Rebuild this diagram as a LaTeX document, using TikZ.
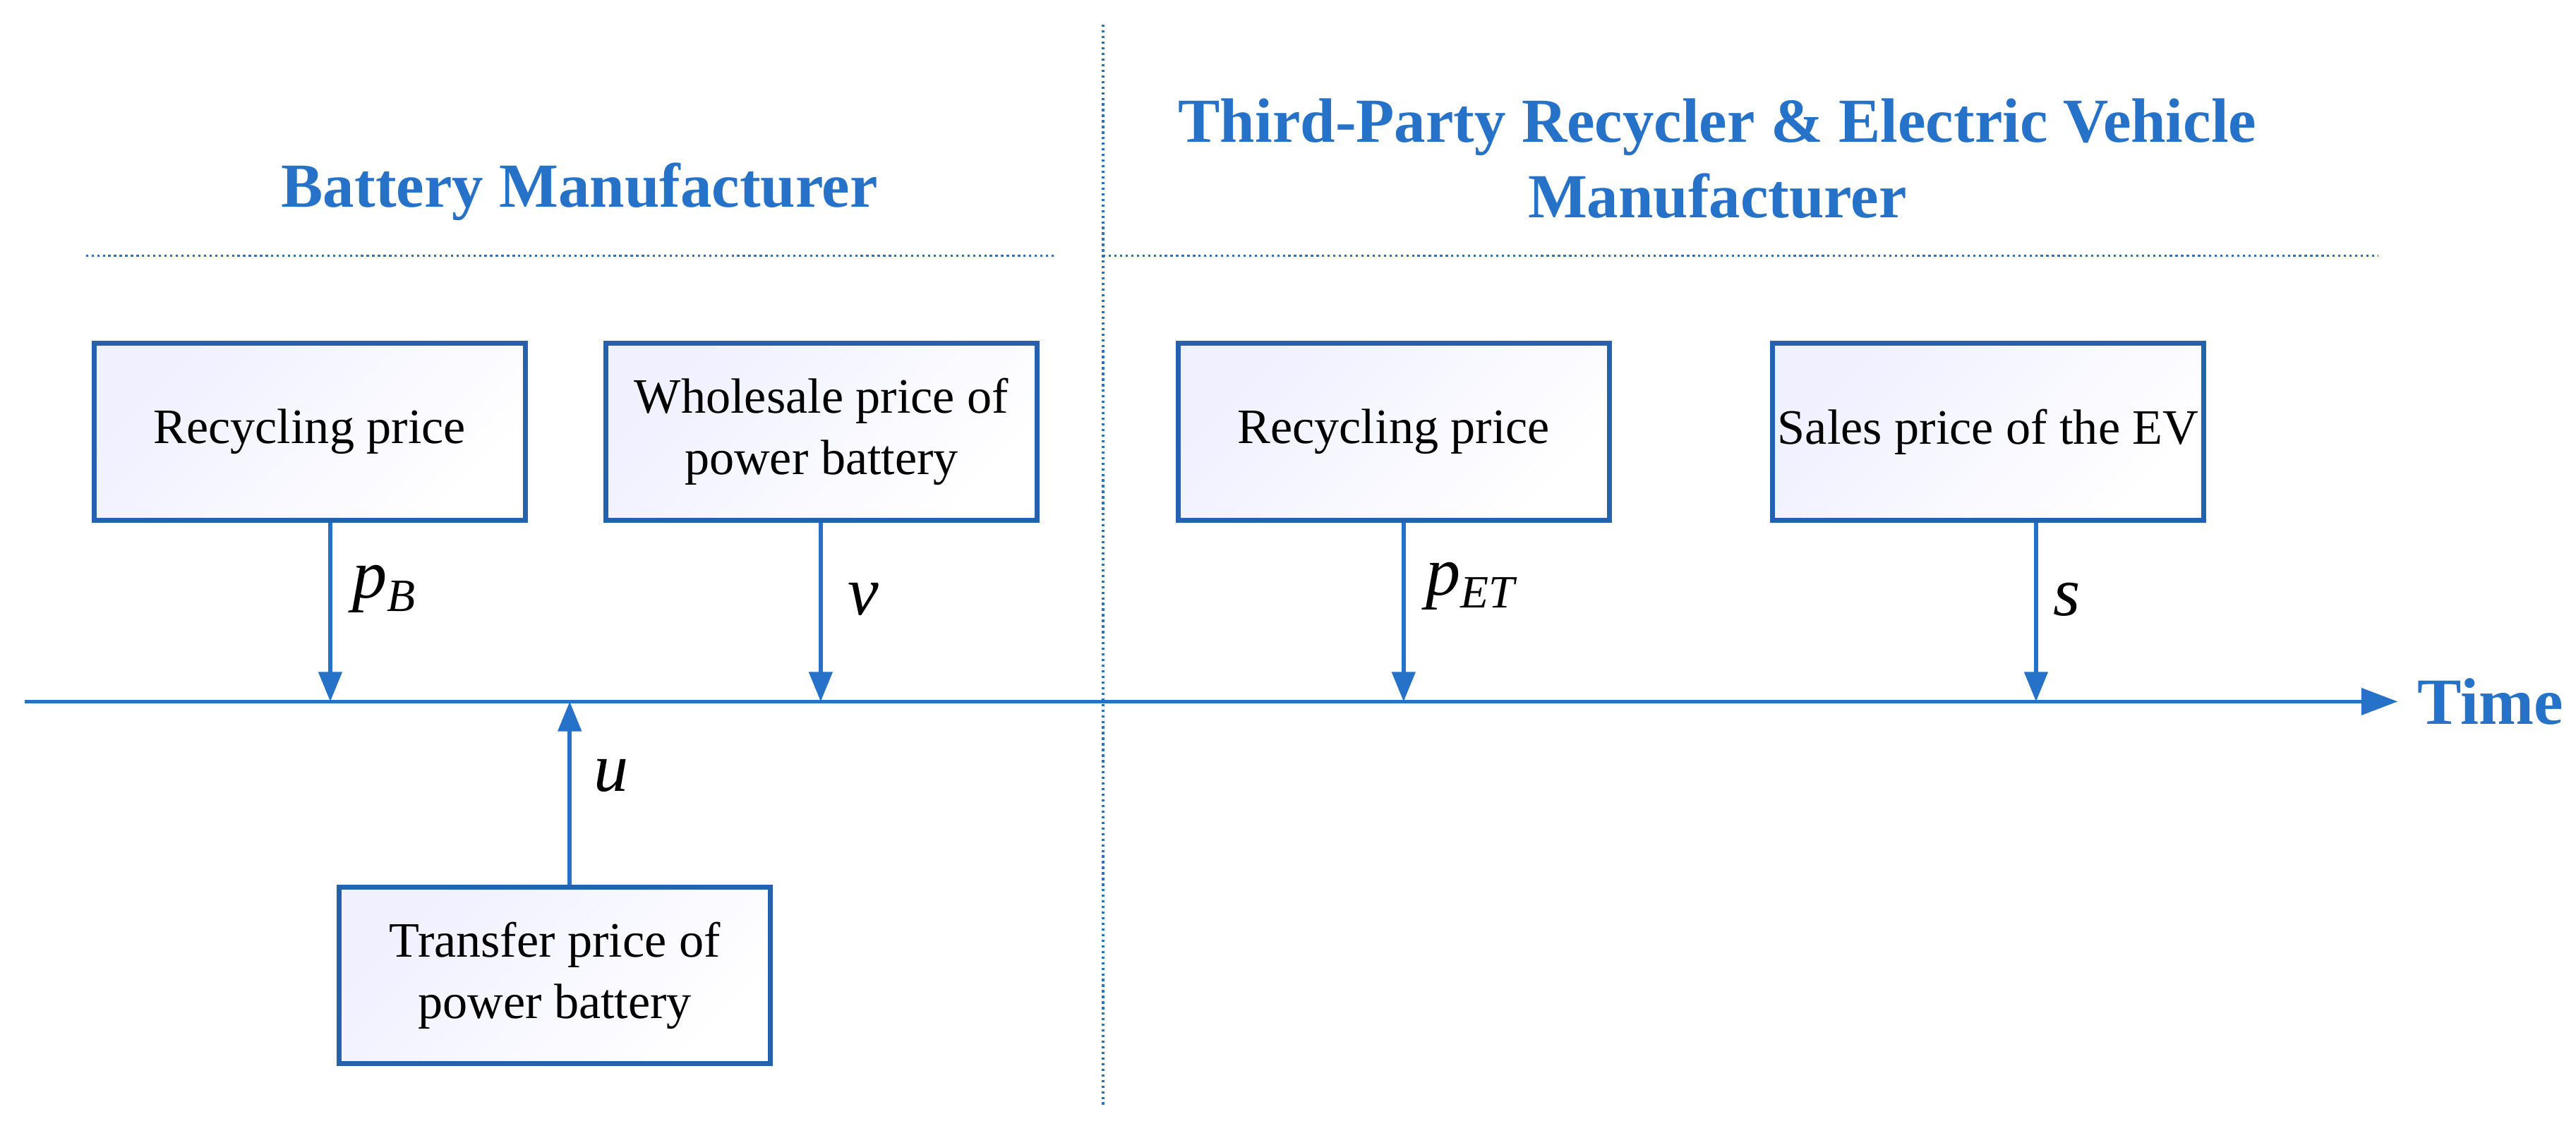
\documentclass[tikz,border=0pt]{standalone}
\usepackage{fontspec}
\setmainfont{Liberation Serif}
\usetikzlibrary{arrows.meta}
\definecolor{bl}{RGB}{38,114,200}
\definecolor{bd}{RGB}{36,98,176}
\tikzset{
  pbox/.style={draw=bd, line width=3pt, left color=blue!6, right color=white, shading angle=45,
    minimum width=261pt, minimum height=107pt, align=center, inner sep=0pt, font=\fontsize{30}{37}\selectfont},
  conn/.style={draw=bl, line width=2.4pt, -{Triangle[length=18pt,width=14pt]}},
  sep/.style={draw=bl, line width=1.4pt, dotted},
  ttl/.style={text=bl, font=\bfseries\fontsize{38}{46}\selectfont, align=center},
  lab/.style={font=\itshape\fontsize{42}{46}\selectfont, anchor=west}
}
\newcommand{\mysub}[2]{#1\raisebox{-0.4ex}{\fontsize{28}{28}\selectfont #2}}
\begin{document}
\begin{tikzpicture}[x=1pt,y=-1pt]
\useasboundingbox (0,0) rectangle (1560,682);
\fill[white] (0,0) rectangle (1560,682);
\coordinate (vt) at (668,15); \coordinate (vb) at (668,670);
\draw[sep] (vt) -- (vb);
\coordinate (h1) at (52,155); \coordinate (h2) at (640,155);
\coordinate (h3) at (668,155); \coordinate (h4) at (1440,155);
\draw[sep] (h1) -- (h2);
\draw[sep] (h3) -- (h4);
\node[ttl] (t1) at (351,116) {Battery Manufacturer};
\node[ttl] (t2) at (1040,96) {Third-Party Recycler \& Electric Vehicle\\Manufacturer};
\coordinate (ts) at (15,425);
\node[text=bl, font=\bfseries\fontsize{40}{46}\selectfont, anchor=west, inner sep=2pt] (time) at (1462,425) {Time};
\draw[conn, -{Triangle[length=22pt,width=16pt]}] (ts) -- (1452,425);
\node[pbox] (b1) at (187.5,261.5) {Recycling price};
\node[pbox] (b2) at (497.5,261.5) {Wholesale price of\\power battery};
\node[pbox] (b3) at (844,261.5) {Recycling price};
\node[pbox] (b4) at (1204,261.5) {Sales price of the EV};
\node[pbox] (b5) at (336,591) {Transfer price of\\power battery};
\coordinate (a1) at (200,425); \coordinate (a2) at (497,425);
\coordinate (a3) at (850,425); \coordinate (a4) at (1233,425);
\coordinate (a5) at (345,425);
\draw[conn] (b1.south -| a1) -- (a1);
\draw[conn] (b2.south -| a2) -- (a2);
\draw[conn] (b3.south -| a3) -- (a3);
\draw[conn] (b4.south -| a4) -- (a4);
\draw[conn] (b5.north -| a5) -- (a5);
\node[lab] (l1) at (210,357) {\mysub{p}{B}};
\node[lab] (l2) at (510,363) {v};
\node[lab] (l3) at (860,355) {\mysub{p}{ET}};
\node[lab] (l4) at (1240,363) {s};
\node[lab] (l5) at (356,470) {u};
\end{tikzpicture}
\end{document}
